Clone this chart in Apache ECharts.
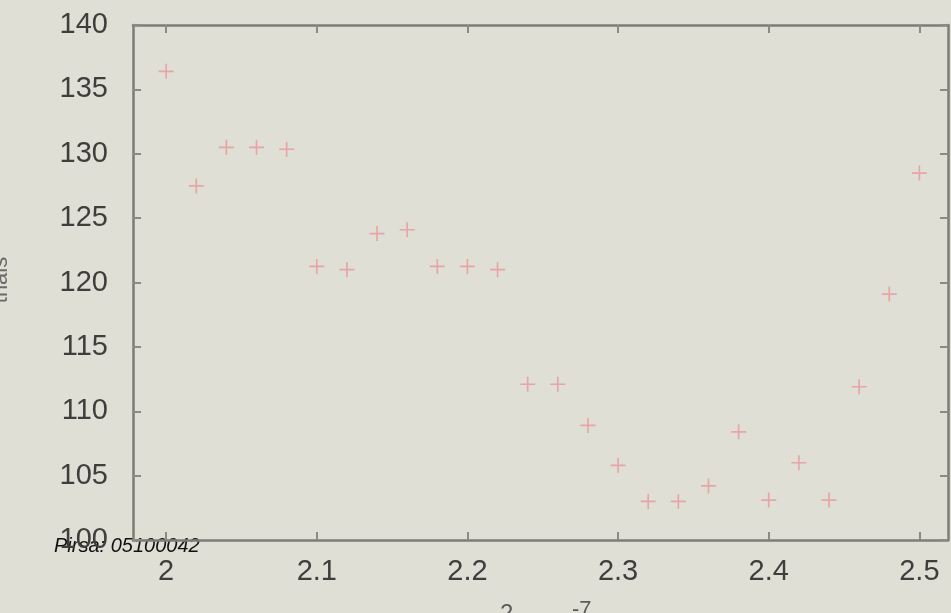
<!DOCTYPE html>
<html>
<head>
<meta charset="utf-8">
<script src="https://cdn.jsdelivr.net/npm/echarts@6/dist/echarts.min.js"></script>
<style>
html,body{margin:0;padding:0;background:#e0dfd5;}
#chart{width:951px;height:613px;}
</style>
</head>
<body>
<div id="chart"></div>
<script>
const xValues = [2.00,2.02,2.04,2.06,2.08,2.10,2.12,2.14,2.16,2.18,2.20,2.22,2.24,2.26,2.28,2.30,2.32,2.34,2.36,2.38,2.40,2.42,2.44,2.46,2.48,2.50];
const yValues = [136.4,127.5,130.5,130.5,130.35,121.25,121.0,123.8,124.1,121.25,121.25,121.0,112.1,112.1,108.9,105.8,103.0,103.0,104.2,108.4,103.1,106.0,103.1,111.9,119.1,128.5];
const xTicks = [2, 2.1, 2.2, 2.3, 2.4, 2.5];
const yTicks = [100, 105, 110, 115, 120, 125, 130, 135, 140];
const yLabel = 'trials';
const watermark = 'Pirsa: 05100042';

const chart = echarts.init(document.getElementById('chart'));
const axisLineStyle = {color:'#7c7c78', width:2.5};
const tickStyle = {color:'#8a8a86', width:2};
const data = xValues.map((x,i)=>[x,yValues[i]]);
chart.setOption({
  backgroundColor:'#e0dfd5',
  animation:false,
  grid:{left:133,right:3,top:25,bottom:73},
  xAxis:[{
    type:'value', min:1.978, max:2.519, position:'bottom',
    axisLine:{show:true,onZero:false,lineStyle:axisLineStyle},
    axisTick:{show:true,inside:true,length:8,customValues:xTicks,lineStyle:tickStyle},
    axisLabel:{customValues:xTicks,margin:17,color:'#3e3e3c',fontSize:29,fontFamily:'Liberation Sans, Arial, sans-serif',formatter:v=>String(v)},
    splitLine:{show:false}
  },{
    type:'value', min:1.978, max:2.519, position:'top',
    axisLine:{show:true,onZero:false,lineStyle:axisLineStyle},
    axisTick:{show:true,inside:true,length:8,customValues:xTicks,lineStyle:tickStyle},
    axisLabel:{show:false},
    splitLine:{show:false}
  }],
  yAxis:[{
    type:'value', min:100, max:140, interval:5, position:'left',
    axisLine:{show:true,onZero:false,lineStyle:axisLineStyle},
    axisTick:{show:true,inside:true,length:8,lineStyle:tickStyle},
    axisLabel:{margin:25,color:'#3e3e3c',fontSize:29,fontFamily:'Liberation Sans, Arial, sans-serif',
      customValues:yTicks},
    splitLine:{show:false}
  },{
    type:'value', min:100, max:140, interval:5, position:'right',
    axisLine:{show:true,onZero:false,lineStyle:axisLineStyle},
    axisTick:{show:true,inside:true,length:8,lineStyle:tickStyle},
    axisLabel:{show:false},
    splitLine:{show:false}
  }],
  series:[{
    type:'scatter',
    data:data,
    symbol:'path://M0,4.45H10V5.55H0Z M4.45,0H5.55V10H4.45Z',
    symbolSize:15,
    itemStyle:{color:'#e99a9e',opacity:0.85}
  }],
  graphic:[
    {type:'text',left:54,top:536,style:{text:watermark,font:'italic 20px Liberation Sans, Arial, sans-serif',fill:'#111'}},
    {type:'text',x:-10,y:280,rotation:Math.PI/2,style:{text:yLabel,font:'22px Liberation Sans, Arial, sans-serif',fill:'#6a6a66',align:'center',verticalAlign:'top'}},
    {type:'text',left:500,top:602,style:{text:'2',font:'24px Liberation Sans, Arial, sans-serif',fill:'#5a5a56'}},
    {type:'text',left:572,top:599,style:{text:'-7',font:'22px Liberation Sans, Arial, sans-serif',fill:'#5a5a56'}}
  ]
});
</script>
</body>
</html>
